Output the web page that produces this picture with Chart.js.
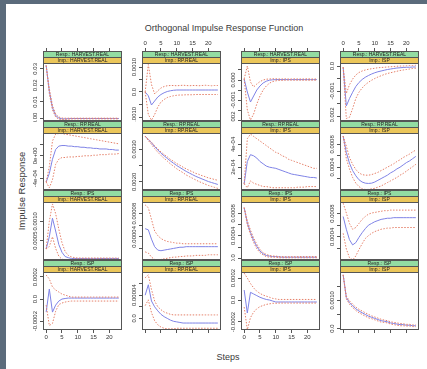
<!DOCTYPE html>
<html lang="en">
<head>
<meta charset="UTF-8">
<title>Orthogonal Impulse Response Function</title>
<script src="https://cdn.jsdelivr.net/npm/chart.js"></script>
<style>
  body { margin: 0; width: 427px; height: 369px; position: relative; overflow: hidden;
         background: #5b6b7b; font-family: "Liberation Sans", Arial, sans-serif; color: #3a3a3a; }
  #sheet { position: absolute; left: 6px; top: 4px; width: 421px; height: 365px; background: #fff; }
  canvas { position: absolute; }
  #title { position: absolute; left: 104px; width: 240px; top: 22px; text-align: center; font-size: 9px; line-height: 12px; }
  #ylab { position: absolute; left: -38px; top: 185px; width: 120px; height: 12px; line-height: 12px;
          text-align: center; font-size: 9.5px; transform: rotate(-90deg); }
  #xlab { position: absolute; left: 178px; width: 100px; top: 351px; text-align: center; font-size: 9px; line-height: 12px; }
</style>
</head>
<body>
<div id="sheet"></div>
<div id="title">Orthogonal Impulse Response Function</div>
<div id="ylab">Impulse Response</div>
<div id="xlab">Steps</div>

<script>
// ------------------------------------------------------------
// 변수와 스텝
// ------------------------------------------------------------
const varNames = ['HARVEST.REAL', 'RP.REAL', 'IPS', 'ISP'];
const steps = [0, 1, 2, 3, 4, 5, 6, 7, 8, 9, 10, 11, 12, 13, 14, 15, 16, 17, 18, 19, 20, 21, 22, 23];
const xTicks = [0, 5, 10, 15, 20];

// ------------------------------------------------------------
// 충격반응 (irf) 와 신뢰구간 (low / upp)
// 이름: 반응변수 + 충격변수 (H=HARVEST.REAL, R=RP.REAL, I=IPS, S=ISP)
// ------------------------------------------------------------
// Resp: HARVEST.REAL
const irfHH = [0.032, 0.0165, 0.0065, 0.0018, 0.0003, -0.0002, -0.0002, -0.0001, 0, 0, 0, 0, 0, 0, 0, 0, 0, 0, 0, 0, 0, 0, 0, 0];
const uppHH = [0.032, 0.018, 0.0078, 0.0027, 0.0009, 0.0003, 0.0002, 0.0002, 0.0002, 0.0002, 0.0002, 0.0002, 0.0002, 0.0002, 0.0002, 0.0002, 0.0002, 0.0002, 0.0002, 0.0002, 0.0002, 0.0002, 0.0002, 0.0002];
const lowHH = [0.032, 0.015, 0.0052, 0.0009, -0.0004, -0.0007, -0.0006, -0.0004, -0.0003, -0.0002, -0.0002, -0.0002, -0.0002, -0.0002, -0.0002, -0.0002, -0.0002, -0.0002, -0.0002, -0.0002, -0.0002, -0.0002, -0.0002, -0.0002];

const irfHR = [0, -0.00015, -0.00052, -0.00036, -0.0002, -0.0001, -0.00003, 0.00002, 0.00005, 0.00007, 0.00008, 0.00008, 0.00008, 0.00008, 0.00008, 0.00008, 0.00008, 0.00008, 0.00008, 0.00008, 0.00008, 0.00008, 0.00008, 0.00008];
const uppHR = [0, 0.0011, 0.0003, -0.00008, 0.00005, 0.00016, 0.00022, 0.00025, 0.00026, 0.00026, 0.00025, 0.00026, 0.00027, 0.00026, 0.00025, 0.00026, 0.00026, 0.00025, 0.00026, 0.00027, 0.00026, 0.00025, 0.00026, 0.00026];
const lowHR = [0, -0.0009, -0.00113, -0.0009, -0.0006, -0.0004, -0.0003, -0.00022, -0.00018, -0.00015, -0.00013, -0.00012, -0.00012, -0.00011, -0.00011, -0.00011, -0.0001, -0.0001, -0.0001, -0.0001, -0.0001, -0.0001, -0.0001, -0.0001];

const irfHI = [0.00005, -0.0006, -0.0011, -0.0008, -0.0005, -0.0003, -0.00015, -0.00006, -0.00001, 0.00001, 0.00002, 0.00002, 0.00002, 0.00002, 0.00002, 0.00002, 0.00002, 0.00002, 0.00002, 0.00002, 0.00002, 0.00002, 0.00002, 0.00002];
const uppHI = [0.00005, 0.0007, -0.0001, -0.00035, -0.0002, -0.00008, 0, 0.00004, 0.00005, 0.00006, 0.00006, 0.00005, 0.00005, 0.00006, 0.00005, 0.00005, 0.00006, 0.00005, 0.00005, 0.00005, 0.00006, 0.00005, 0.00005, 0.00005];
const lowHI = [0.00005, -0.0015, -0.002, -0.0017, -0.0012, -0.0008, -0.0005, -0.0003, -0.00016, -0.00008, -0.00004, -0.00002, -0.00002, -0.00001, -0.00001, -0.00001, -0.00001, -0.00001, -0.00001, -0.00001, -0.00001, -0.00001, -0.00001, -0.00001];

const irfHS = [-0.00005, -0.0016, -0.0013, -0.00105, -0.00082, -0.00066, -0.00054, -0.00045, -0.00038, -0.00032, -0.00027, -0.00023, -0.0002, -0.00017, -0.00014, -0.00012, -0.0001, -0.00008, -0.00007, -0.00006, -0.00005, -0.00005, -0.00004, -0.00004];
const uppHS = [-0.00005, -0.0011, -0.00075, -0.00052, -0.00036, -0.00026, -0.0002, -0.00016, -0.00013, -0.00011, -0.00009, -0.00007, -0.00006, -0.00005, -0.00004, -0.00003, -0.00002, -0.00001, 0, 0, 0.00001, 0.00002, 0.00002, 0.00003];
const lowHS = [-0.00005, -0.0021, -0.00205, -0.0017, -0.0013, -0.00105, -0.00088, -0.00075, -0.00065, -0.00057, -0.0005, -0.00044, -0.00039, -0.00034, -0.0003, -0.00027, -0.00024, -0.00021, -0.00018, -0.00016, -0.00014, -0.00012, -0.0001, -0.00009];

// Resp: RP.REAL
const irfRH = [-0.00046, -0.00031, -0.00006, 0.00011, 0.00017, 0.00018, 0.00018, 0.00017, 0.00017, 0.00016, 0.00016, 0.00015, 0.00015, 0.00014, 0.00014, 0.00013, 0.00013, 0.00012, 0.00012, 0.00012, 0.00011, 0.00011, 0.0001, 0.0001];
const uppRH = [-0.00046, -0.00019, 0.00026, 0.00038, 0.00039, 0.00039, 0.00038, 0.00037, 0.00036, 0.00035, 0.00034, 0.00033, 0.00032, 0.00031, 0.0003, 0.00029, 0.00028, 0.00027, 0.00026, 0.00025, 0.00024, 0.00023, 0.00022, 0.00021];
const lowRH = [-0.00046, -0.00056, -0.00042, -0.00015, -0.00006, -0.00003, -0.00003, -0.00002, -0.00002, -0.00002, -0.00001, -0.00001, 0, 0, 0, 0.00001, 0.00001, 0.00002, 0.00002, 0.00002, 0.00003, 0.00003, 0.00003, 0.00004];

const irfRR = [0.0034, 0.0033, 0.0032, 0.00308, 0.00298, 0.00288, 0.0028, 0.00272, 0.00264, 0.00257, 0.0025, 0.00244, 0.00238, 0.00232, 0.00227, 0.00222, 0.00217, 0.00213, 0.00209, 0.00205, 0.00201, 0.00198, 0.00195, 0.00192];
const uppRR = [0.0034, 0.00331, 0.00322, 0.00311, 0.00301, 0.00292, 0.00284, 0.00277, 0.00269, 0.00263, 0.00256, 0.00251, 0.00245, 0.0024, 0.00235, 0.00231, 0.00226, 0.00223, 0.00219, 0.00216, 0.00212, 0.0021, 0.00207, 0.00205];
const lowRR = [0.0034, 0.00327, 0.00315, 0.00302, 0.00291, 0.00281, 0.00272, 0.00264, 0.00255, 0.00248, 0.0024, 0.00234, 0.00228, 0.00221, 0.00216, 0.00211, 0.00206, 0.00201, 0.00197, 0.00193, 0.00189, 0.00186, 0.00183, 0.0018];

const irfRI = [0.000054, 0.00025, 0.00031, 0.0003, 0.00028, 0.00025, 0.00023, 0.00021, 0.0002, 0.000195, 0.00019, 0.00018, 0.00017, 0.00016, 0.00015, 0.00014, 0.000135, 0.00013, 0.000125, 0.00012, 0.000115, 0.00011, 0.00011, 0.000105];
const uppRI = [0.000054, 0.00045, 0.00049, 0.00047, 0.00045, 0.00043, 0.00041, 0.00039, 0.00037, 0.00035, 0.00033, 0.00032, 0.0003, 0.00029, 0.00027, 0.00026, 0.00025, 0.00024, 0.00023, 0.00022, 0.00021, 0.0002, 0.00019, 0.00019];
const lowRI = [0.000054, 0.00002, 0.00008, 0.00006, 0.00005, 0.00004, 0.00003, 0.00003, 0.000025, 0.00002, 0.00002, 0.00002, 0.00002, 0.00002, 0.00002, 0.00002, 0.00002, 0.000025, 0.000025, 0.000025, 0.00003, 0.00003, 0.00003, 0.00003];

const irfRS = [0.000946, 0.00066, 0.00047, 0.00034, 0.00025, 0.00018, 0.00014, 0.00012, 0.000115, 0.00012, 0.00014, 0.00017, 0.0002, 0.00023, 0.00026, 0.0003, 0.00033, 0.00037, 0.0004, 0.00044, 0.00048, 0.00051, 0.00055, 0.00059];
const uppRS = [0.000946, 0.00077, 0.00057, 0.00045, 0.00036, 0.0003, 0.00027, 0.00026, 0.00026, 0.00027, 0.00029, 0.00031, 0.00034, 0.00037, 0.0004, 0.00043, 0.00046, 0.0005, 0.00053, 0.00057, 0.0006, 0.00063, 0.00067, 0.0007];
const lowRS = [0.000946, 0.00055, 0.00037, 0.00022, 0.00012, 0.00006, 0.00002, 0.00001, 0.00001, 0.00002, 0.00003, 0.00005, 0.00007, 0.0001, 0.00013, 0.00016, 0.00019, 0.00022, 0.00026, 0.00029, 0.00033, 0.00037, 0.00041, 0.00045];

// Resp: IPS
const irfIH = [0.000285, 0.0006, 0.00108, 0.00075, 0.0004, 0.0002, 0.00009, 0.00006, 0.00004, 0.00004, 0.00004, 0.00004, 0.00004, 0.00004, 0.00004, 0.00004, 0.00004, 0.00004, 0.00004, 0.00004, 0.00004, 0.00004, 0.00004, 0.00004];
const uppIH = [0.000285, 0.001, 0.00145, 0.0012, 0.0008, 0.00045, 0.00022, 0.00012, 0.00008, 0.00006, 0.00005, 0.00005, 0.00005, 0.00005, 0.00005, 0.00005, 0.00005, 0.00005, 0.00005, 0.00005, 0.00005, 0.00005, 0.00005, 0.00005];
const lowIH = [0.000285, 0.00035, 0.0006, 0.0003, 0.0001, 0.00002, 0, 0.00001, 0.00001, 0.00002, 0.00002, 0.00002, 0.00002, 0.00002, 0.00002, 0.00002, 0.00002, 0.00002, 0.00002, 0.00002, 0.00002, 0.00002, 0.00002, 0.00002];

const irfIR = [0.000054, 0.000052, 0.000036, 0.000023, 0.000017, 0.000016, 0.000017, 0.000018, 0.000019, 0.00002, 0.000021, 0.000022, 0.000022, 0.000023, 0.000023, 0.000023, 0.000023, 0.000023, 0.000023, 0.000023, 0.000023, 0.000023, 0.000023, 0.000023];
const uppIR = [0.000095, 0.00009, 0.00007, 0.00005, 0.000042, 0.000037, 0.000034, 0.000032, 0.000031, 0.00003, 0.000029, 0.000029, 0.000028, 0.000028, 0.000028, 0.000028, 0.000028, 0.000028, 0.000028, 0.000028, 0.000028, 0.000028, 0.000028, 0.000028];
const lowIR = [0.000014, 0.000012, 0.000005, 0.000001, 0, 0.000001, 0.000002, 0.000003, 0.000004, 0.000005, 0.000005, 0.000006, 0.000006, 0.000007, 0.000007, 0.000007, 0.000008, 0.000008, 0.000008, 0.000008, 0.000009, 0.000009, 0.000009, 0.000009];

const irfII = [0.0009, 0.00063, 0.00046, 0.00032, 0.00021, 0.00013, 0.00008, 0.00005, 0.00004, 0.00003, 0.00003, 0.000025, 0.00002, 0.00002, 0.00002, 0.00002, 0.00002, 0.00002, 0.00002, 0.00002, 0.00002, 0.00002, 0.00002, 0.00002];
const uppII = [0.0009, 0.00067, 0.0005, 0.00036, 0.00025, 0.00016, 0.0001, 0.00007, 0.00005, 0.00004, 0.00004, 0.00003, 0.00003, 0.00003, 0.00003, 0.00003, 0.00003, 0.00003, 0.00003, 0.00003, 0.00003, 0.00003, 0.00003, 0.00003];
const lowII = [0.0009, 0.00059, 0.00042, 0.00028, 0.00017, 0.0001, 0.00006, 0.00003, 0.00002, 0.00002, 0.00002, 0.00001, 0.00001, 0.00001, 0.00001, 0.00001, 0.00001, 0.00001, 0.00001, 0.00001, 0.00001, 0.00001, 0.00001, 0.00001];

const irfIS = [0.00075, 0.00053, 0.00035, 0.00026, 0.0003, 0.00039, 0.00047, 0.00054, 0.0006, 0.00063, 0.00066, 0.00068, 0.0007, 0.00071, 0.00072, 0.00072, 0.00073, 0.00073, 0.00073, 0.00073, 0.00073, 0.00073, 0.00073, 0.00073];
const uppIS = [0.00098, 0.00081, 0.00063, 0.00053, 0.00056, 0.00063, 0.0007, 0.00075, 0.00079, 0.00081, 0.00082, 0.00083, 0.00084, 0.00085, 0.00085, 0.00086, 0.00086, 0.00086, 0.00086, 0.00086, 0.00086, 0.00086, 0.00086, 0.00086];
const lowIS = [0.00046, 0.00019, 0.00004, 0, 0.00007, 0.00018, 0.00028, 0.00037, 0.00042, 0.00046, 0.00049, 0.00051, 0.00053, 0.00054, 0.00055, 0.00055, 0.00056, 0.00056, 0.00056, 0.00056, 0.00056, 0.00056, 0.00056, 0.00056];

// Resp: ISP
const irfSH = [-0.000118, 0.000091, -0.000118, -0.000055, -0.000018, 0, 0.000005, 0.000009, 0.000009, 0.000009, 0.000009, 0.000009, 0.000009, 0.000009, 0.000009, 0.000009, 0.000009, 0.000009, 0.000009, 0.000009, 0.000009, 0.000009, 0.000009, 0.000009];
const uppSH = [0.000218, 0.000182, 0.000109, 0.000082, 0.000064, 0.000045, 0.000036, 0.000027, 0.000018, 0.000018, 0.000018, 0.000018, 0.000018, 0.000018, 0.000018, 0.000018, 0.000018, 0.000018, 0.000018, 0.000018, 0.000018, 0.000018, 0.000018, 0.000018];
const lowSH = [-0.000055, -0.00024, -0.00022, -0.00011, -0.00005, -0.000036, -0.000027, -0.000022, -0.000018, -0.000018, -0.000018, -0.000018, -0.000018, -0.000018, -0.000018, -0.000018, -0.000018, -0.000018, -0.000018, -0.000018, -0.000018, -0.000018, -0.000018, -0.000018];

const irfSR = [0.00004, 0.000058, 0.00003, 0.00002, 0.000013, 0.000007, 0.000003, 0, -0.000003, -0.000005, -0.000006, -0.000007, -0.000008, -0.000008, -0.000008, -0.000008, -0.000008, -0.000008, -0.000008, -0.000008, -0.000008, -0.000008, -0.000008, -0.000008];
const uppSR = [0.00007, 0.000075, 0.00005, 0.00003, 0.00002, 0.000015, 0.000011, 0.000009, 0.000007, 0.000006, 0.000006, 0.000006, 0.000006, 0.000006, 0.000006, 0.000006, 0.000006, 0.000006, 0.000006, 0.000006, 0.000006, 0.000006, 0.000006, 0.000006];
const lowSR = [0.000022, 0.000032, 0.00001, -0.000004, -0.000011, -0.000015, -0.000017, -0.000018, -0.000018, -0.000018, -0.000017, -0.000017, -0.000017, -0.000017, -0.000017, -0.000017, -0.000017, -0.000017, -0.000017, -0.000017, -0.000017, -0.000017, -0.000017, -0.000017];

const irfSI = [0.000091, -0.000118, 0.00007, 0.000055, 0.00004, 0.000025, 0.000014, 0.000005, 0, -0.000009, -0.000018, -0.000018, -0.000018, -0.000018, -0.000018, -0.000018, -0.000018, -0.000018, -0.000018, -0.000018, -0.000018, -0.000018, -0.000018, -0.000018];
const uppSI = [0.000245, 0.0002, 0.00015, 0.00011, 0.00008, 0.00006, 0.000045, 0.000035, 0.000025, 0.000015, 0.00001, 0.000005, 0.000005, 0.000005, 0.000005, 0.000005, 0.000005, 0.000005, 0.000005, 0.000005, 0.000005, 0.000005, 0.000005, 0.000005];
const lowSI = [-0.000064, -0.00027, -0.00016, -0.00011, -0.00008, -0.00006, -0.00005, -0.00004, -0.000035, -0.00003, -0.00003, -0.000028, -0.000028, -0.000028, -0.000028, -0.000028, -0.000028, -0.000028, -0.000028, -0.000028, -0.000028, -0.000028, -0.000028, -0.000028];

const irfSS = [0.0019, 0.0011, 0.00092, 0.0008, 0.0007, 0.00062, 0.00056, 0.0005, 0.00044, 0.0004, 0.00036, 0.00032, 0.00028, 0.00026, 0.00024, 0.0002, 0.00018, 0.00016, 0.00014, 0.00014, 0.00012, 0.00012, 0.0001, 0.0001];
const uppSS = [0.0019, 0.00115, 0.00098, 0.00086, 0.00076, 0.00068, 0.00062, 0.00056, 0.0005, 0.00045, 0.00041, 0.00037, 0.00033, 0.0003, 0.00028, 0.00024, 0.00022, 0.0002, 0.00018, 0.00017, 0.00015, 0.00015, 0.00013, 0.00013];
const lowSS = [0.0019, 0.00105, 0.00086, 0.00074, 0.00064, 0.00056, 0.0005, 0.00044, 0.00038, 0.00035, 0.00031, 0.00027, 0.00023, 0.00022, 0.0002, 0.00016, 0.00014, 0.00012, 0.0001, 0.0001, 0.00009, 0.00009, 0.00007, 0.00007];

// 패널 순서 (행: 반응, 열: 충격)
const irfs = [irfHH, irfHR, irfHI, irfHS, irfRH, irfRR, irfRI, irfRS, irfIH, irfIR, irfII, irfIS, irfSH, irfSR, irfSI, irfSS];
const upps = [uppHH, uppHR, uppHI, uppHS, uppRH, uppRR, uppRI, uppRS, uppIH, uppIR, uppII, uppIS, uppSH, uppSR, uppSI, uppSS];
const lows = [lowHH, lowHR, lowHI, lowHS, lowRH, lowRR, lowRI, lowRS, lowIH, lowIR, lowII, lowIS, lowSH, lowSR, lowSI, lowSS];

// y축 범위 / 눈금 / 눈금 라벨
const yLimits = [
  [-0.0015, 0.0335], [-0.00116, 0.00116], [-0.00205, 0.00085], [-0.0022, 0.00012],
  [-0.0006, 0.0004], [0.00175, 0.0035], [0, 0.0005], [0, 0.001],
  [0, 0.0015], [0, 0.0001], [-0.00003, 0.001], [0, 0.001],
  [-0.00028, 0.000245], [-0.00002, 0.00008], [-0.000273, 0.000255], [-0.00005, 0.002]
];
const yTicks = [
  [0, 0.01, 0.02, 0.03], [-0.001, -0.0005, 0, 0.0005, 0.001], [-0.002, -0.0015, -0.001, -0.0005, 0, 0.0005], [-0.002, -0.0015, -0.001, -0.0005, 0],
  [-0.0004, -0.0002, 0, 0.0002], [0.002, 0.0025, 0.003], [0.0001, 0.0002, 0.0003, 0.0004], [0.0002, 0.0004, 0.0006, 0.0008],
  [0.0005, 0.001], [0.00002, 0.00004, 0.00006, 0.00008], [0, 0.0002, 0.0004, 0.0006, 0.0008], [0.0002, 0.0004, 0.0006, 0.0008],
  [-0.0002, 0, 0.0002], [0, 0.00002, 0.00004, 0.00006], [-0.0002, 0, 0.0002], [0, 0.0005, 0.001, 0.0015]
];
const yTickLabels = [
  ['0.00', '0.01', '0.02', '0.03'], ['-0.0010', '', '0.0', '', '0.0010'], ['-0.002', '', '-0.001', '', '0.000', ''], ['-0.002', '', '-0.001', '', '0.0'],
  ['-4e-04', '', '0e+00', ''], ['0.0020', '', '0.0030'], ['', '2e-04', '', '4e-04'], ['', '0.0004', '', '0.0008'],
  ['0.0005', '0.0010'], ['', '0.00004', '', '0.00008'], ['0.0', '', '0.0004', '', '0.0008'], ['', '0.0004', '', '0.0008'],
  ['-0.0002', '0.0', '0.0002'], ['0.0', '', '0.00004', ''], ['-0.0002', '0.0', '0.0002'], ['0.0', '', '0.0010', '']
];

// ------------------------------------------------------------
// 배치
// ------------------------------------------------------------
const colLeft = [43, 142, 241, 340];
const panelW = 79;
const rowTop = [51, 121, 190, 260];
const rowH = [70, 69, 70, 70];
const stripH = 12;
const axisW = 20;
const axisH = 14;

const lineBlue = '#7f83e6';
const lineRed = '#e5806a';
const frameColor = '#555';

Chart.defaults.font.family = '"Liberation Sans", Arial, sans-serif';

// 스트립, 테두리, 세로 눈금 라벨
const stripPlugin = {
  id: 'strip',
  afterDraw(chart, args, opts) {
    const ctx = chart.ctx;
    const a = chart.chartArea;
    const L = a.left, T = a.top, W = a.right - a.left, H = a.bottom - a.top;
    ctx.save();
    ctx.fillStyle = '#93dca2';
    ctx.fillRect(L, T, W, stripH / 2);
    ctx.fillStyle = '#ebc65a';
    ctx.fillRect(L, T + stripH / 2, W, stripH / 2);

    ctx.strokeStyle = frameColor;
    ctx.lineWidth = 1;
    ctx.strokeRect(L + 0.5, T + 0.5, W - 1, H - 1);
    ctx.beginPath();
    ctx.moveTo(L, T + stripH / 2 + 0.5); ctx.lineTo(L + W, T + stripH / 2 + 0.5);
    ctx.moveTo(L, T + stripH + 0.5); ctx.lineTo(L + W, T + stripH + 0.5);
    ctx.stroke();

    ctx.fillStyle = '#222';
    ctx.font = '5px "Liberation Sans"';
    ctx.textAlign = 'center';
    ctx.textBaseline = 'middle';
    ctx.fillText('Resp.: ' + opts.resp, L + W / 2, T + 3.4);
    ctx.fillText('Imp.: ' + opts.imp, L + W / 2, T + 9.4);

    // y 눈금 라벨 (세로 회전)
    const ys = chart.scales.y;
    ctx.fillStyle = '#333';
    ctx.font = '6px "Liberation Sans"';
    ctx.textBaseline = 'bottom';
    opts.ticks.forEach((v, i) => {
      const lab = opts.labels[i];
      if (!lab) return;
      ctx.save();
      ctx.translate(L - 5, ys.getPixelForValue(v));
      ctx.rotate(-Math.PI / 2);
      ctx.fillText(lab, 0, 0);
      ctx.restore();
    });
    ctx.restore();
  }
};

function xAxis(position, shown, withLabels) {
  return {
    type: 'linear', axis: 'x', position: position, display: shown,
    min: -1, max: 24,
    afterBuildTicks: s => { s.ticks = xTicks.map(v => ({ value: v })); },
    afterFit: s => { s.height = shown ? axisH : 0; s.paddingLeft = 0; s.paddingRight = 0; },
    ticks: { display: withLabels, font: { size: 6 }, color: '#333', padding: 1, maxRotation: 0, autoSkip: false },
    grid: { drawOnChartArea: false, tickLength: 3, color: frameColor },
    border: { display: false }
  };
}

for (let r = 0; r < 4; r++) {
  for (let c = 0; c < 4; c++) {
    const k = r * 4 + c;
    const lo = yLimits[k][0], hi = yLimits[k][1];
    const plotH = rowH[r] - stripH;
    const top = r === 0 ? axisH : 0;
    const bottom = r === 3 ? axisH : 0;

    const cv = document.createElement('canvas');
    cv.width = axisW + panelW + 3;
    cv.height = top + rowH[r] + bottom + 1;
    cv.style.left = (colLeft[c] - axisW) + 'px';
    cv.style.top = (rowTop[r] - top) + 'px';
    document.body.appendChild(cv);

    const series = (vals) => steps.map((s, i) => ({ x: s, y: vals[i] }));

    new Chart(cv, {
      type: 'line',
      data: {
        datasets: [
          { data: series(upps[k]), borderColor: lineRed, borderWidth: 1, borderDash: [1.5, 1.5] },
          { data: series(lows[k]), borderColor: lineRed, borderWidth: 1, borderDash: [1.5, 1.5] },
          { data: series(irfs[k]), borderColor: lineBlue, borderWidth: 1 }
        ]
      },
      options: {
        responsive: false,
        animation: false,
        devicePixelRatio: 1,
        elements: { point: { radius: 0 }, line: { tension: 0 } },
        layout: { padding: { top: 0, left: 0, right: 3, bottom: 1 }, autoPadding: false },
        plugins: {
          legend: { display: false },
          tooltip: { enabled: false },
          strip: { resp: varNames[r], imp: varNames[c], ticks: yTicks[k], labels: yTickLabels[k] }
        },
        scales: {
          x: xAxis('bottom', r === 3, c % 2 === 0),
          x2: xAxis('top', r === 0, c % 2 === 1),
          y: {
            min: lo,
            // 스트립 높이만큼 위쪽 여백
            max: hi + (hi - lo) * stripH / plotH,
            afterBuildTicks: s => { s.ticks = yTicks[k].map(v => ({ value: v })); },
            afterFit: s => { s.width = axisW; s.paddingTop = 0; s.paddingBottom = 0; },
            ticks: { display: false },
            grid: { drawOnChartArea: false, tickLength: 3, color: frameColor },
            border: { display: false }
          }
        }
      },
      plugins: [stripPlugin]
    });
  }
}
</script>
</body>
</html>
